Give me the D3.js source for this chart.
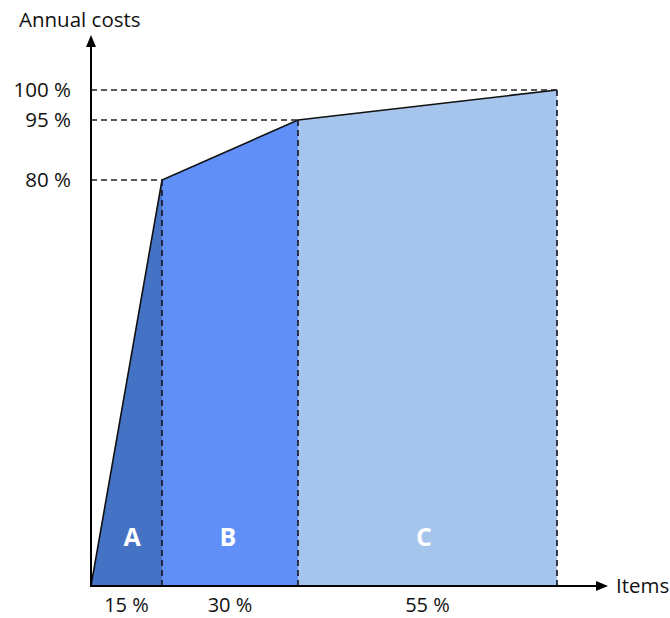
<!DOCTYPE html>
<html>
<head>
<meta charset="utf-8">
<script src="https://cdn.jsdelivr.net/npm/d3@7"></script>
<style>
  html, body { margin: 0; padding: 0; background: #fff; }
  svg { display: block; }
  text { font-family: "Open Sans", "Noto Sans", sans-serif; }
</style>
</head>
<body>
<script>
// ---- data ----
const classes = ["A", "B", "C"];
const itemShares = [15, 30, 55];            // % of items per class
const cumItems = [0, 15, 45, 100];          // cumulative % of items
const cumCosts = [0, 80, 95, 100];          // cumulative % of annual costs
const yTickValues = [80, 95, 100];
const yTickLabels = ["80 %", "95 %", "100 %"];
const xLabels = ["15 %", "30 %", "55 %"];
const colors = ["#4472C4", "#5F8FF7", "#A6C5EC"];

const W = 670, H = 618;
const svg = d3.select("body").append("svg").attr("width", W).attr("height", H);

// schematic (piecewise) scales, as in the reference drawing
const x = d3.scaleLinear().domain(cumItems).range([91, 162, 298, 557]);
const y = d3.scaleLinear().domain(cumCosts).range([586, 180, 120, 90]);

// class areas
const segs = classes.map((c, i) => ({
  cls: c,
  x0: cumItems[i], x1: cumItems[i + 1],
  y0: cumCosts[i], y1: cumCosts[i + 1]
}));

svg.selectAll("path.area").data(segs).enter().append("path")
  .attr("class", "area")
  .attr("fill", (d, i) => colors[i])
  .attr("d", d => {
    const pts = [[x(d.x0), y(0)], [x(d.x0), y(d.y0)], [x(d.x1), y(d.y1)], [x(d.x1), y(0)]];
    return d3.line()(pts) + "Z";
  });

// curve
svg.append("path")
  .attr("fill", "none")
  .attr("stroke", "#111")
  .attr("stroke-width", 1.6)
  .attr("d", d3.line()(cumItems.map((v, i) => [x(v), y(cumCosts[i])])));

// dashed guides
const dash = "6,4";
cumItems.slice(1).forEach((v, i) => {
  const cy = cumCosts[i + 1];
  svg.append("line")
    .attr("x1", x(0)).attr("x2", x(v))
    .attr("y1", y(cy)).attr("y2", y(cy))
    .attr("stroke", "#222").attr("stroke-width", 1.4).attr("stroke-dasharray", dash);
  svg.append("line")
    .attr("x1", x(v)).attr("x2", x(v))
    .attr("y1", y(cy)).attr("y2", y(0))
    .attr("stroke", "#1a1a2a").attr("stroke-width", 1.7).attr("stroke-dasharray", dash);
});

// axes with arrows
svg.append("line").attr("x1", x(0)).attr("x2", x(0)).attr("y1", y(0) + 1).attr("y2", 44)
  .attr("stroke", "#000").attr("stroke-width", 2);
svg.append("path").attr("d", `M${x(0)},35 L${x(0) - 5},47 L${x(0) + 5},47 Z`).attr("fill", "#000");
svg.append("line").attr("x1", x(0) - 1).attr("x2", 597).attr("y1", y(0)).attr("y2", y(0))
  .attr("stroke", "#000").attr("stroke-width", 2);
svg.append("path").attr("d", `M608,${y(0)} L596,${y(0) - 5} L596,${y(0) + 5} Z`).attr("fill", "#000");

// y tick labels
svg.selectAll("text.ytick").data(yTickValues).enter().append("text")
  .attr("class", "ytick")
  .attr("x", 71).attr("y", d => y(d))
  .attr("dy", "0.35em")
  .attr("text-anchor", "end")
  .attr("font-size", 20.5)
  .attr("fill", "#111")
  .text((d, i) => yTickLabels[i]);

// x share labels
svg.selectAll("text.xlab").data(segs).enter().append("text")
  .attr("class", "xlab")
  .attr("x", d => (x(d.x0) + x(d.x1)) / 2)
  .attr("y", 605)
  .attr("dy", "0.35em")
  .attr("text-anchor", "middle")
  .attr("font-size", 20)
  .attr("fill", "#111")
  .text((d, i) => xLabels[i]);

// class letters
const letterX = [132, 228, 424];
svg.selectAll("text.cls").data(segs).enter().append("text")
  .attr("class", "cls")
  .attr("x", (d, i) => letterX[i])
  .attr("y", 537)
  .attr("dy", "0.35em")
  .attr("text-anchor", "middle")
  .attr("font-size", 25)
  .attr("font-weight", "bold")
  .attr("fill", "#fff")
  .text(d => d.cls);

// axis titles
svg.append("text").attr("x", 19).attr("y", 20).attr("dy", "0.35em")
  .attr("font-size", 20.5).attr("fill", "#111").text("Annual costs");
svg.append("text").attr("x", 616).attr("y", 586).attr("dy", "0.35em")
  .attr("font-size", 20.5).attr("fill", "#111").text("Items");
</script>
</body>
</html>
